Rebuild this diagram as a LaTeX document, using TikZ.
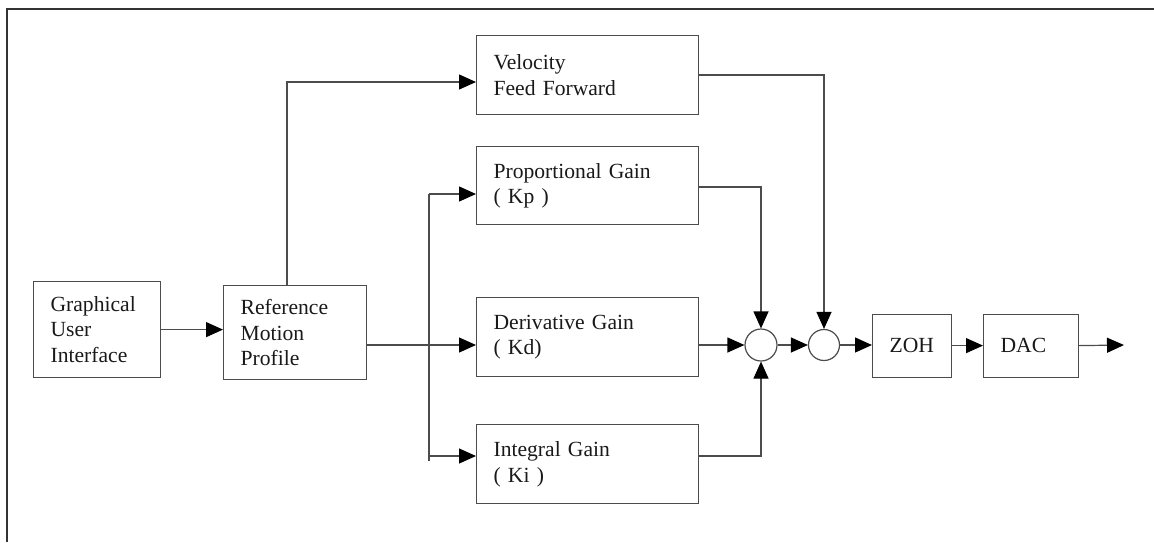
\documentclass[tikz,border=0pt]{standalone}
\usepackage{fontspec}
\setmainfont{Liberation Serif}
\usetikzlibrary{arrows.meta}
\begin{document}
\begin{tikzpicture}[x=1pt,y=-1pt,
  ln/.style={draw=black!70, line width=1.2pt},
  blk/.style={ln, rectangle, anchor=north west, inner xsep=17pt, inner ysep=0pt, align=left, font=\fontsize{21.6}{25.5}\selectfont, text=black!90},
  sumnode/.style={ln, circle, inner sep=0pt, fill=white},
  arr/.style={ln, -{Triangle[length=17pt,width=15pt,color=black]}},
  wire/.style={ln}
]
\useasboundingbox (0,0) rectangle (1154,542);
% frame
\draw[ln, draw=black!80] (7,542) -- (7,9) -- (1154,9);

% blocks
\node[blk, minimum width=127pt, minimum height=96pt, text width=93pt] (gui) at (33,281) {Graphical\\User\\Interface};
\node[blk, minimum width=143pt, minimum height=94pt, text width=109pt] (ref) at (223,285) {Reference\\Motion\\Profile};
\node[blk, minimum width=222pt, minimum height=79pt, text width=188pt] (vff) at (476,35) {Velocity\\Feed Forward};
\node[blk, minimum width=222pt, minimum height=78pt, text width=188pt] (prop) at (476,146) {Proportional Gain\\( Kp )};
\node[blk, minimum width=222pt, minimum height=79pt, text width=188pt] (deriv) at (476,297) {Derivative Gain\\( Kd)};
\node[blk, minimum width=222pt, minimum height=79pt, text width=188pt] (integ) at (476,424) {Integral Gain\\( Ki )};
\node[blk, minimum width=79pt, minimum height=63pt, text width=45pt] (zoh) at (872,313.5) {ZOH};
\node[blk, minimum width=95pt, minimum height=63pt, text width=61pt] (dac) at (983,313.5) {DAC};

% summing junctions
\node[sumnode, minimum size=32pt] (s1) at (761,345) {};
\node[sumnode, minimum size=31pt] (s2) at (824,345) {};

% helper coordinates
\coordinate (vt) at (287,82);
\coordinate (bt) at (429,194);
\coordinate (bi) at (429,456);
\coordinate (bb) at (429,461);
\coordinate (out) at (1124,345);

% connectors
\draw[arr] (gui.east) -- (gui.east -| ref.west);
\draw[arr] (vt |- ref.north) -- (vt) -- (vt -| vff.west);
\draw[arr] (ref.east |- s1) -- (s1 -| deriv.west);
\draw[wire] (bt) -- (bb);
\draw[arr] (bt) -- (bt -| prop.west);
\draw[arr] (bi) -- (bi -| integ.west);
\draw[arr] (deriv.east |- s1) -- (s1.west);
\draw[arr] (prop.east |- 0,187) -| (s1.north);
\draw[arr] (integ.east |- 0,456) -| (s1.south);
\draw[arr] (s1.east) -- (s2.west);
\draw[arr] (vff.east |- 0,75) -| (s2.north);
\draw[arr] (s2.east) -- (zoh.west |- s2);
\draw[arr] (zoh.east) -- (dac.west);
\draw[arr] (dac.east) -- (out);
\end{tikzpicture}
\end{document}
